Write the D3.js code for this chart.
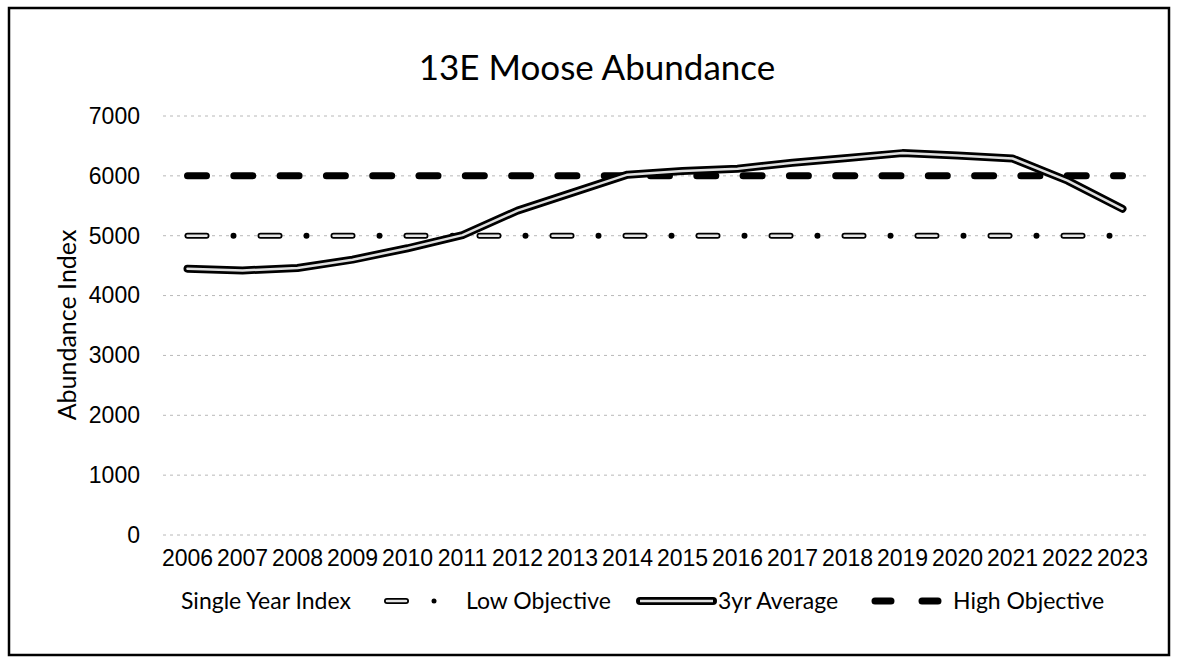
<!DOCTYPE html>
<html>
<head>
<meta charset="utf-8">
<script src="https://cdn.jsdelivr.net/npm/d3@7"></script>
<style>
  body { margin: 0; background: #fff; }
  svg { display: block; font-family: Lato, "Open Sans", sans-serif; }
  .tick text { fill: #000; }
</style>
</head>
<body>
<div id="chart"></div>
<script>
// data
var years = ["2006", "2007", "2008", "2009", "2010", "2011", "2012", "2013", "2014",
             "2015", "2016", "2017", "2018", "2019", "2020", "2021", "2022", "2023"];
var avg3yr = [4450, 4420, 4460, 4600, 4790, 5010, 5420, 5720, 6020,
              6080, 6120, 6220, 6300, 6380, 6340, 6290, 5920, 5450];
var lowObjective = years.map(function () { return 5000; });
var highObjective = years.map(function () { return 6000; });
var yTicks = [0, 1000, 2000, 3000, 4000, 5000, 6000, 7000];
var legendNames = ["Single Year Index", "Low Objective", "3yr Average", "High Objective"];

const W = 1178, H = 663;
const margin = {top: 116, right: 28, bottom: 128, left: 160},
      width = W - margin.left - margin.right,
      height = H - margin.top - margin.bottom;

var root = d3.select("#chart").append("svg")
  .attr("width", W)
  .attr("height", H);

// outer frame
root.append("rect")
  .attr("x", 9).attr("y", 8)
  .attr("width", 1160).attr("height", 647)
  .style("fill", "#fff")
  .style("stroke", "#000")
  .style("stroke-width", 2.5);

root.append("text")
  .attr("x", 597).attr("y", 80)
  .attr("text-anchor", "middle")
  .style("font-size", "35px")
  .style("fill", "#000")
  .text("13E Moose Abundance");

var svg = root.append("g")
  .attr("transform", "translate(" + margin.left + "," + margin.top + ")");

var x = d3.scaleBand()
  .domain(years)
  .range([0, width]);
var y = d3.scaleLinear()
  .domain([0, 7000])
  .range([height, 0]);

function cx(i) { return x(years[i]) + x.bandwidth() / 2; }

// gridlines
svg.append("g")
  .selectAll("line").data(yTicks)
  .enter().append("line")
  .attr("x1", 3).attr("x2", width)
  .attr("y1", function (d) { return y(d); })
  .attr("y2", function (d) { return y(d); })
  .style("stroke", "#b8b8b8")
  .style("stroke-width", 1)
  .style("stroke-dasharray", "3,4");

var yAxis = d3.axisLeft(y).tickValues(yTicks).tickFormat(d3.format("d"))
  .tickSize(0).tickPadding(20);
svg.append("g")
  .attr("class", "axis axis-y")
  .call(yAxis)
  .call(function (g) { g.select(".domain").remove(); })
  .selectAll("text").style("font-size", "23px");

var xAxis = d3.axisBottom(x).tickSize(0).tickPadding(15);
svg.append("g")
  .attr("class", "axis axis-x")
  .attr("transform", "translate(0," + height + ")")
  .call(xAxis)
  .call(function (g) { g.select(".domain").remove(); })
  .selectAll("text").style("font-size", "23px");

root.append("text")
  .attr("transform", "translate(76,325) rotate(-90)")
  .attr("text-anchor", "middle")
  .style("font-size", "25px")
  .style("fill", "#000")
  .text("Abundance Index");

var line = d3.line()
  .x(function (d, i) { return cx(i); })
  .y(function (d) { return y(d); });

// low objective: hollow capsule dash + dot
svg.append("path").datum(lowObjective)
  .attr("d", line)
  .style("fill", "none").style("stroke", "#000")
  .style("stroke-width", 6).style("stroke-linecap", "round")
  .style("stroke-dasharray", "19,27,0,27");
svg.append("path").datum(lowObjective)
  .attr("d", line)
  .style("fill", "none").style("stroke", "#e6e6e6")
  .style("stroke-width", 2.5).style("stroke-linecap", "round")
  .style("stroke-dasharray", "19,54");

// high objective: heavy dashes
svg.append("path").datum(highObjective)
  .attr("d", line)
  .style("fill", "none").style("stroke", "#000")
  .style("stroke-width", 7).style("stroke-linecap", "round")
  .style("stroke-dasharray", "19,27.3");

// 3yr average: double line
svg.append("path").datum(avg3yr)
  .attr("d", line)
  .style("fill", "none").style("stroke", "#000")
  .style("stroke-width", 8).style("stroke-linecap", "round")
  .style("stroke-linejoin", "round");
svg.append("path").datum(avg3yr)
  .attr("d", line)
  .style("fill", "none").style("stroke", "#e0e0e0")
  .style("stroke-width", 2.5).style("stroke-linecap", "round")
  .style("stroke-linejoin", "round");

// legend
var ly = 601;
var leg = root.append("g").attr("class", "legend");
var textX = [181, 466, 718, 953];
leg.selectAll("text").data(legendNames)
  .enter().append("text")
  .attr("x", function (d, i) { return textX[i]; })
  .attr("y", ly)
  .attr("dy", "0.35em")
  .style("font-size", "23px")
  .style("fill", "#000")
  .text(function (d) { return d; });

// low objective key
leg.append("line")
  .attr("x1", 387).attr("x2", 406).attr("y1", ly).attr("y2", ly)
  .style("stroke", "#000").style("stroke-width", 6).style("stroke-linecap", "round");
leg.append("line")
  .attr("x1", 387).attr("x2", 406).attr("y1", ly).attr("y2", ly)
  .style("stroke", "#e6e6e6").style("stroke-width", 2.5).style("stroke-linecap", "round");
leg.append("circle")
  .attr("cx", 434).attr("cy", ly).attr("r", 2.5)
  .style("fill", "#000");

// 3yr average key
leg.append("line")
  .attr("x1", 640).attr("x2", 713).attr("y1", ly).attr("y2", ly)
  .style("stroke", "#000").style("stroke-width", 8).style("stroke-linecap", "round");
leg.append("line")
  .attr("x1", 640).attr("x2", 713).attr("y1", ly).attr("y2", ly)
  .style("stroke", "#e0e0e0").style("stroke-width", 2.5);

// high objective key
leg.append("line")
  .attr("x1", 875).attr("x2", 941).attr("y1", ly).attr("y2", ly)
  .style("stroke", "#000").style("stroke-width", 7).style("stroke-linecap", "round")
  .style("stroke-dasharray", "16,31");
</script>
</body>
</html>
